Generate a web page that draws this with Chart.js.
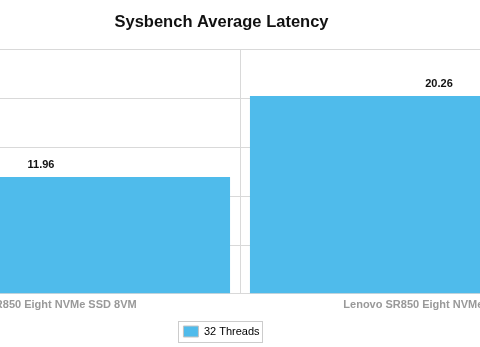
<!DOCTYPE html>
<html>
<head>
<meta charset="utf-8">
<script src="https://cdn.jsdelivr.net/npm/chart.js@4/dist/chart.umd.min.js"></script>
<style>
  html, body { margin: 0; padding: 0; background: #fff; overflow: hidden; }
  #wrap { position: absolute; left: -195px; top: 0; width: 833px; height: 347px; }
</style>
</head>
<body>
<div id="wrap"><canvas id="c1" width="833" height="347"></canvas></div>
<script>
var categories = ["Lenovo SR850 Eight NVMe SSD 8VM", "Lenovo SR850 Eight NVMe SSD 4VM"];
var seriesName = "32 Threads";
var latency = [11.96, 20.26];
var yTicks = [0, 5, 10, 15, 20, 25];

// value labels above each bar
var barLabels = {
  id: "barLabels",
  afterDatasetsDraw: function(chart) {
    var ctx = chart.ctx;
    ctx.save();
    ctx.font = "bold 11px 'Liberation Sans', Arial, sans-serif";
    ctx.fillStyle = "#111";
    ctx.textAlign = "center";
    ctx.textBaseline = "middle";
    chart.getDatasetMeta(0).data.forEach(function(bar, i) {
      ctx.fillText(latency[i].toFixed(2), bar.x, bar.y - 12);
    });
    ctx.restore();
  }
};

// grey frame round the legend
var legendFrame = {
  id: "legendFrame",
  afterDraw: function(chart) {
    var item = chart.legend.legendHitBoxes[0];
    if (!item) return;
    var ctx = chart.ctx;
    ctx.save();
    ctx.strokeStyle = "#cccccc";
    ctx.lineWidth = 1;
    ctx.strokeRect(Math.round(item.left) - 4.5, Math.round(item.top) - 4.5, Math.round(item.width) + 8, 21);
    ctx.restore();
  }
};

var ctx = document.getElementById("c1");
var myBarChart = new Chart(ctx, {
  type: "bar",
  data: {
    labels: categories,
    datasets: [
      {
        label: seriesName,
        data: latency,
        backgroundColor: "#4fbbeb",
        borderWidth: 0,
        categoryPercentage: 1,
        barPercentage: 0.95
      }
    ]
  },
  options: {
    responsive: false,
    animation: false,
    layout: { padding: { left: 0, right: 0, top: 0, bottom: 0 } },
    plugins: {
      title: {
        display: true,
        text: "Sysbench Average Latency",
        color: "#111",
        font: { family: "'Liberation Sans', Arial, sans-serif", size: 16.5, weight: "bold" },
        padding: { top: 13, bottom: 17 }
      },
      legend: {
        position: "bottom",
        labels: {
          color: "#333",
          boxWidth: 15,
          boxHeight: 11,
          padding: 9,
          font: { family: "'Liberation Sans', Arial, sans-serif", size: 11 },
          generateLabels: function(chart) {
            return [{
              text: seriesName,
              fillStyle: "#4fbbeb",
              strokeStyle: "#c4c4c4",
              lineWidth: 1,
              datasetIndex: 0
            }];
          }
        }
      },
      tooltip: { enabled: false }
    },
    scales: {
      x: {
        grid: { color: "#d9d9d9", drawTicks: false, offset: true },
        border: { color: "#d9d9d9" },
        ticks: {
          color: "#999",
          padding: 5,
          maxRotation: 0,
          font: { family: "'Liberation Sans', Arial, sans-serif", size: 11, weight: "bold" }
        }
      },
      y: {
        min: yTicks[0],
        max: yTicks[yTicks.length - 1],
        afterBuildTicks: function(axis) {
          axis.ticks = yTicks.map(function(v) { return { value: v }; });
        },
        afterFit: function(axis) {
          axis.width = 37;
        },
        grid: { color: "#d9d9d9", drawTicks: false },
        border: { display: false },
        ticks: { display: false }
      }
    }
  },
  plugins: [barLabels, legendFrame]
});
</script>
</body>
</html>
